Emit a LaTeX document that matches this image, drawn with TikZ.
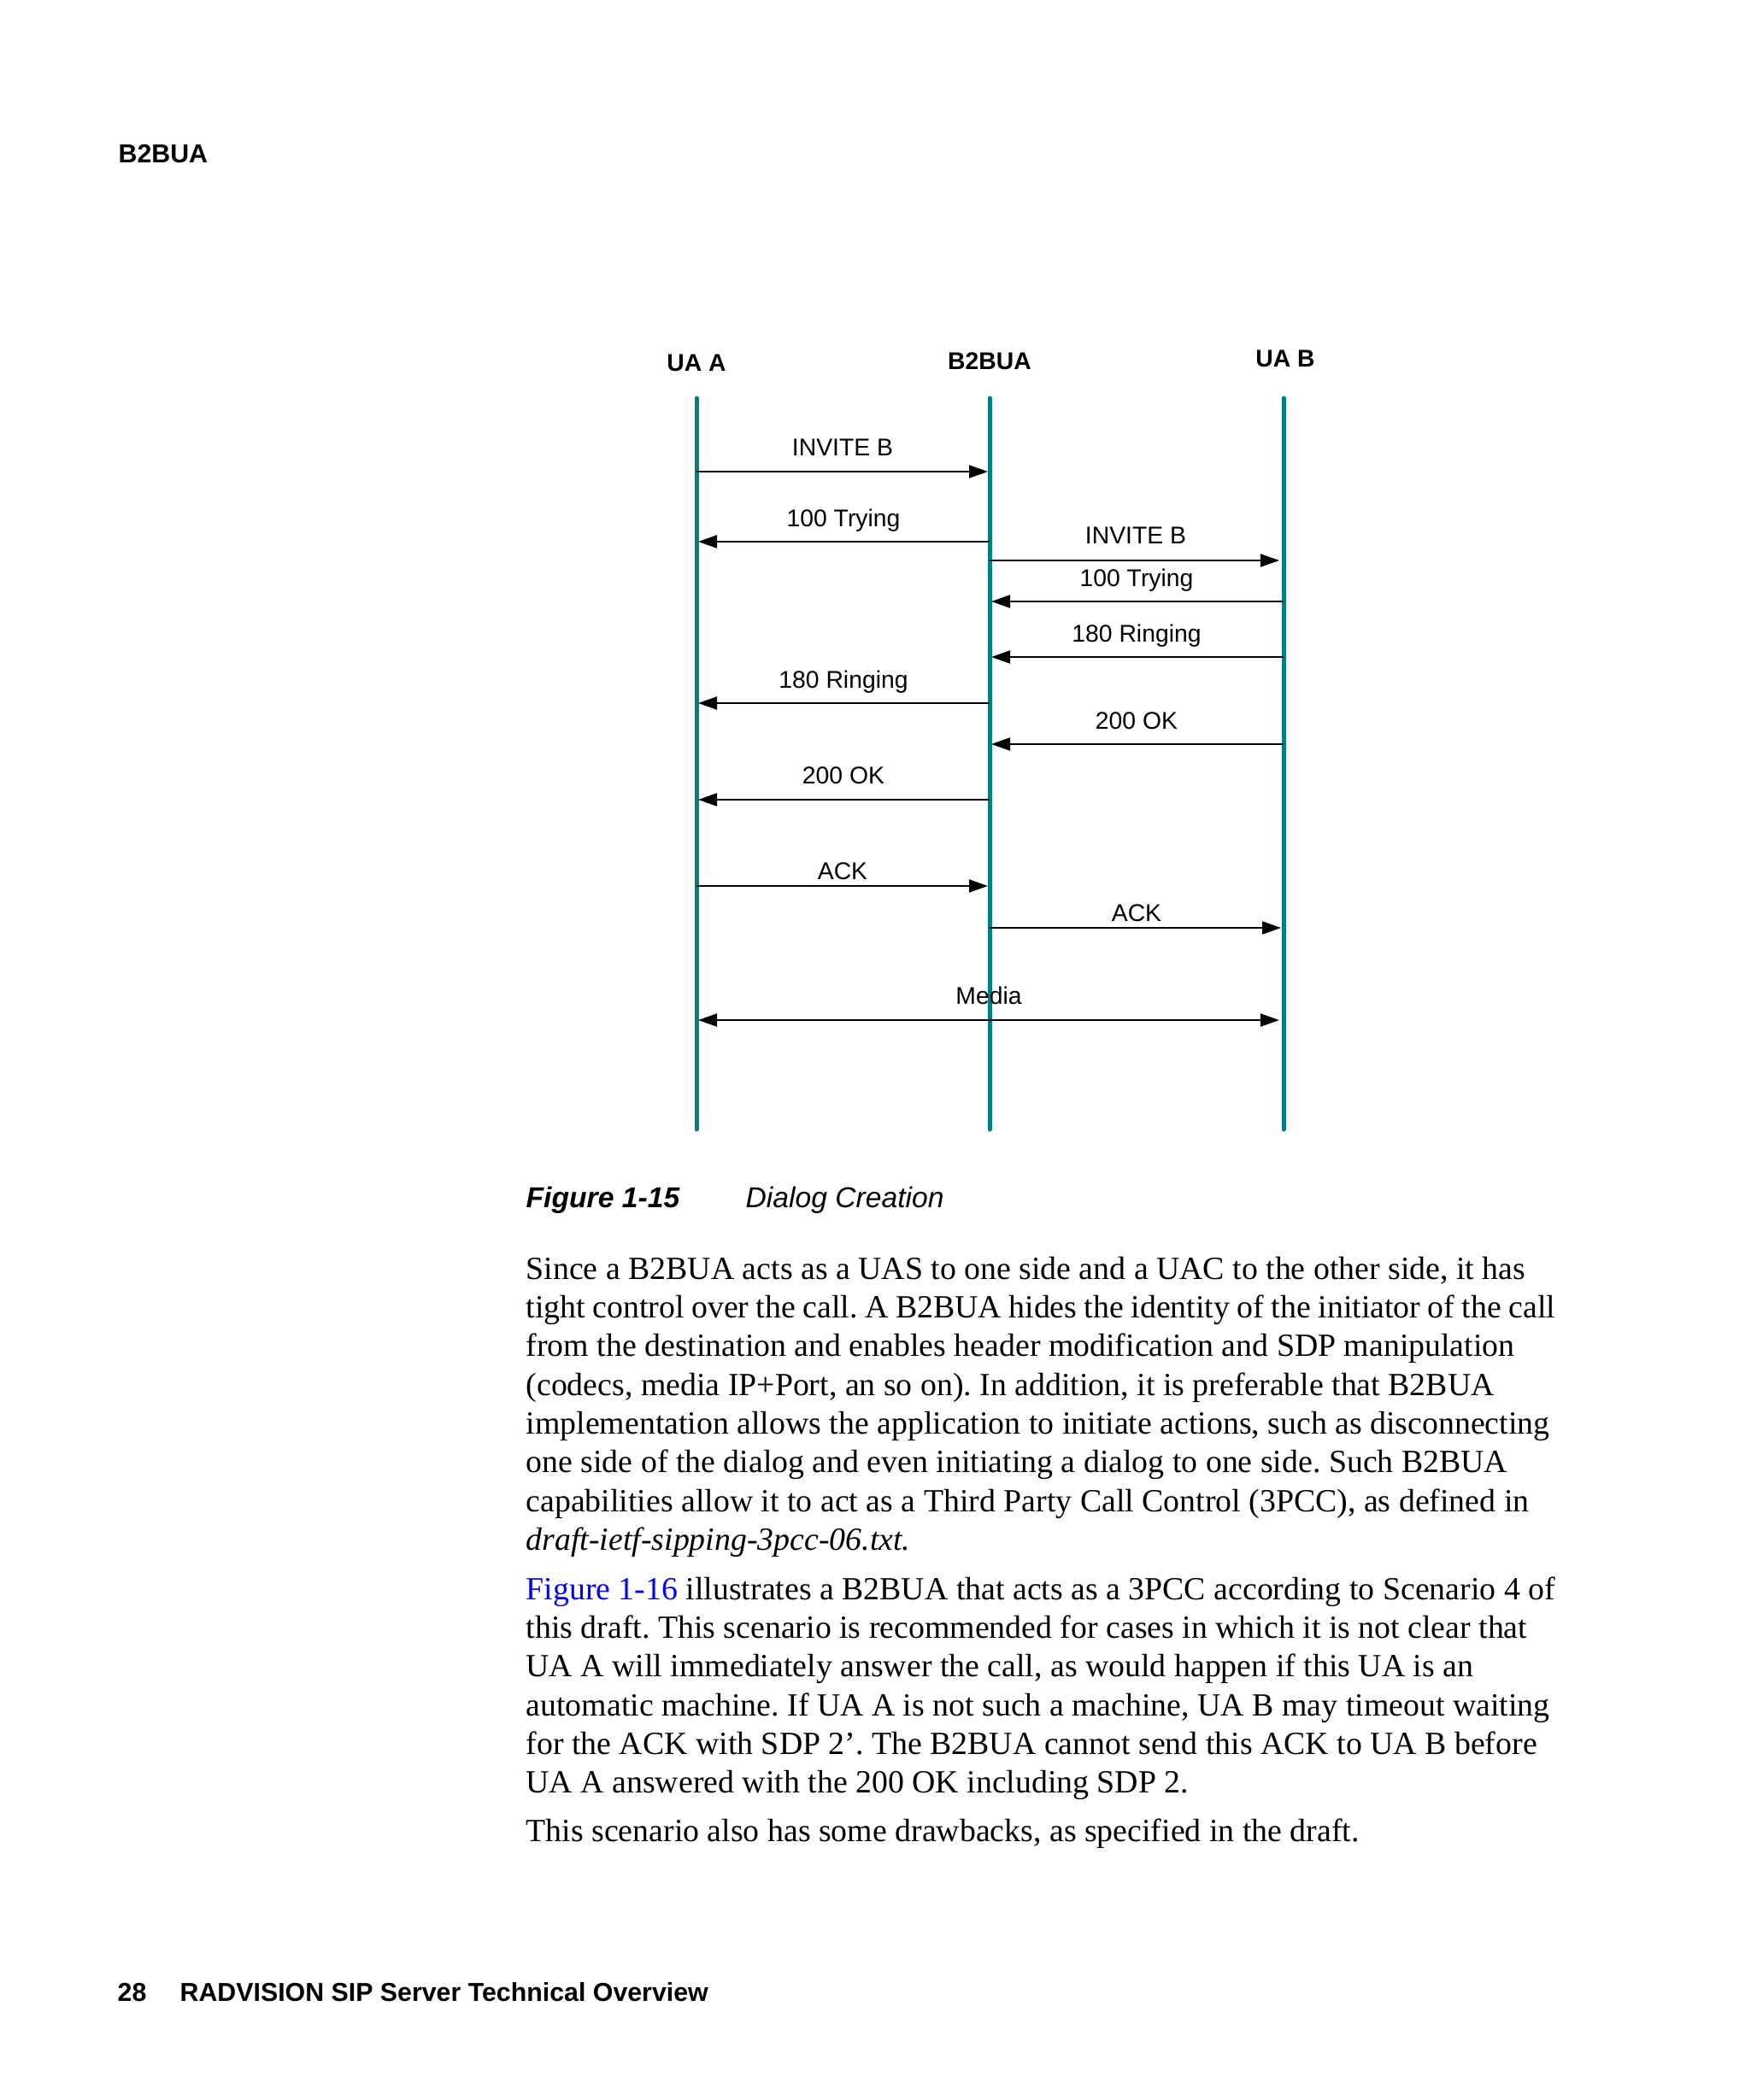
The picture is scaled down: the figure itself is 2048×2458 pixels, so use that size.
\documentclass[tikz,border=0pt]{standalone}
\usepackage{fontspec}
\setmainfont{Liberation Serif}
\newfontfamily\arialf{Liberation Sans}
\usetikzlibrary{arrows.meta}
\definecolor{life}{RGB}{0,128,128}
\definecolor{linkblue}{RGB}{0,0,255}
\frenchspacing
\begin{document}
\begin{tikzpicture}[x=0.3pt,y=-0.3pt,
  lifeline/.style={draw=life, line width=1.5pt, line cap=round},
  msg/.style={draw=black, line width=0.6pt, -{Triangle[length=6.6pt,width=4.5pt]}},
  bimsg/.style={draw=black, line width=0.6pt, {Triangle[length=6.6pt,width=4.5pt]}-{Triangle[length=6.6pt,width=4.5pt]}},
  msglabel/.style={font=\arialf\fontsize{8.5}{10}\selectfont, anchor=base, inner sep=0pt},
  actor/.style={font=\arialf\bfseries\fontsize{8.5}{10}\selectfont, anchor=base, inner sep=0pt},
  pagetext/.style={font=\arialf\bfseries\fontsize{9.1}{10}\selectfont, anchor=base west, inner sep=0pt},
  bodytext/.style={font=\fontsize{11.35}{13.6}\selectfont\frenchspacing, anchor=base west, inner sep=0pt}
]
\useasboundingbox (0,0) rectangle (2048,2458);
\fill[white] (0,0) rectangle (2048,2458);

% page header / footer
\node[pagetext] (hdr) at (138,191) {B2BUA};
\node[pagetext] (pgno) at (137,2342) {28};
\node[pagetext] (ftitle) at (210,2342) {RADVISION SIP Server Technical Overview};

% actors
\node[actor] (uaA) at (815,435) {UA A};
\node[actor] (b2b) at (1158,433) {B2BUA};
\node[actor] (uaB) at (1504,430) {UA B};

% lifelines
\coordinate (Atop) at (815,466);  \coordinate (Abot) at (815,1322);
\coordinate (Btop) at (1158,466); \coordinate (Bbot) at (1158,1322);
\coordinate (Ctop) at (1502,466); \coordinate (Cbot) at (1502,1322);
\draw[lifeline] (Atop) -- (Abot);
\draw[lifeline] (Btop) -- (Bbot);
\draw[lifeline] (Ctop) -- (Cbot);

% messages
\coordinate (m1s) at (815,552);  \coordinate (m1e) at (1156,552);
\draw[msg] (m1s) -- (m1e);
\node[msglabel] (l1) at (986,534) {INVITE B};

\coordinate (m2s) at (1158,634); \coordinate (m2e) at (817,634);
\draw[msg] (m2s) -- (m2e);
\node[msglabel] (l2) at (987,616) {100 Trying};

\coordinate (m3s) at (1158,656); \coordinate (m3e) at (1497,656);
\draw[msg] (m3s) -- (m3e);
\node[msglabel] (l3) at (1329,637) {INVITE B};

\coordinate (m4s) at (1502,704); \coordinate (m4e) at (1160,704);
\draw[msg] (m4s) -- (m4e);
\node[msglabel] (l4) at (1330,686) {100 Trying};

\coordinate (m5s) at (1502,769); \coordinate (m5e) at (1160,769);
\draw[msg] (m5s) -- (m5e);
\node[msglabel] (l5) at (1330,751) {180 Ringing};

\coordinate (m6s) at (1158,823); \coordinate (m6e) at (817,823);
\draw[msg] (m6s) -- (m6e);
\node[msglabel] (l6) at (987,805) {180 Ringing};

\coordinate (m7s) at (1502,871); \coordinate (m7e) at (1160,871);
\draw[msg] (m7s) -- (m7e);
\node[msglabel] (l7) at (1330,853) {200 OK};

\coordinate (m8s) at (1158,936); \coordinate (m8e) at (817,936);
\draw[msg] (m8s) -- (m8e);
\node[msglabel] (l8) at (987,917) {200 OK};

\coordinate (m9s) at (815,1037); \coordinate (m9e) at (1156,1037);
\draw[msg] (m9s) -- (m9e);
\node[msglabel] (l9) at (986,1029) {ACK};

\coordinate (m10s) at (1158,1086); \coordinate (m10e) at (1499,1086);
\draw[msg] (m10s) -- (m10e);
\node[msglabel] (l10) at (1330,1078) {ACK};

\coordinate (m11s) at (817,1194); \coordinate (m11e) at (1497,1194);
\draw[bimsg] (m11s) -- (m11e);
\node[msglabel] (l11) at (1157,1175) {Media};

% caption
\node[anchor=base west, inner sep=0pt, font=\arialf\bfseries\itshape\fontsize{10.1}{12}\selectfont] (figno) at (615,1413) {Figure 1-15};
\node[anchor=base west, inner sep=0pt, font=\arialf\itshape\fontsize{10.1}{12}\selectfont] (figtitle) at (872,1413) {Dialog Creation};

% body text
\node[bodytext] (p1) at (615,1497) {\parbox[t]{440pt}{\raggedright\leavevmode
Since a B2BUA acts as a UAS to one side and a UAC to the other side, it has\\
{\spaceskip=2.55pt\relax tight control over the call. A B2BUA hides the identity of the initiator of the call}\\
from the destination and enables header modification and SDP manipulation\\
(codecs, media IP+Port, an so on). In addition, it is preferable that B2BUA\\
implementation allows the application to initiate actions, such as disconnecting\\
one side of the dialog and even initiating a dialog to one side. Such B2BUA\\
capabilities allow it to act as a Third Party Call Control (3PCC), as defined in\\
\textit{draft-ietf-sipping-3pcc-06.txt.}}};

\node[bodytext] (p2) at (615,1872) {\parbox[t]{440pt}{\raggedright\leavevmode
\textcolor{linkblue}{Figure 1-16} illustrates a B2BUA that acts as a 3PCC according to Scenario 4 of\\
this draft. This scenario is recommended for cases in which it is not clear that\\
UA A will immediately answer the call, as would happen if this UA is an\\
automatic machine. If UA A is not such a machine, UA B may timeout waiting\\
for the ACK with SDP 2’. The B2BUA cannot send this ACK to UA B before\\
UA A answered with the 200 OK including SDP 2.}};

\node[bodytext] (p3) at (615,2155) {This scenario also has some drawbacks, as specified in the draft.};
\end{tikzpicture}
\end{document}
